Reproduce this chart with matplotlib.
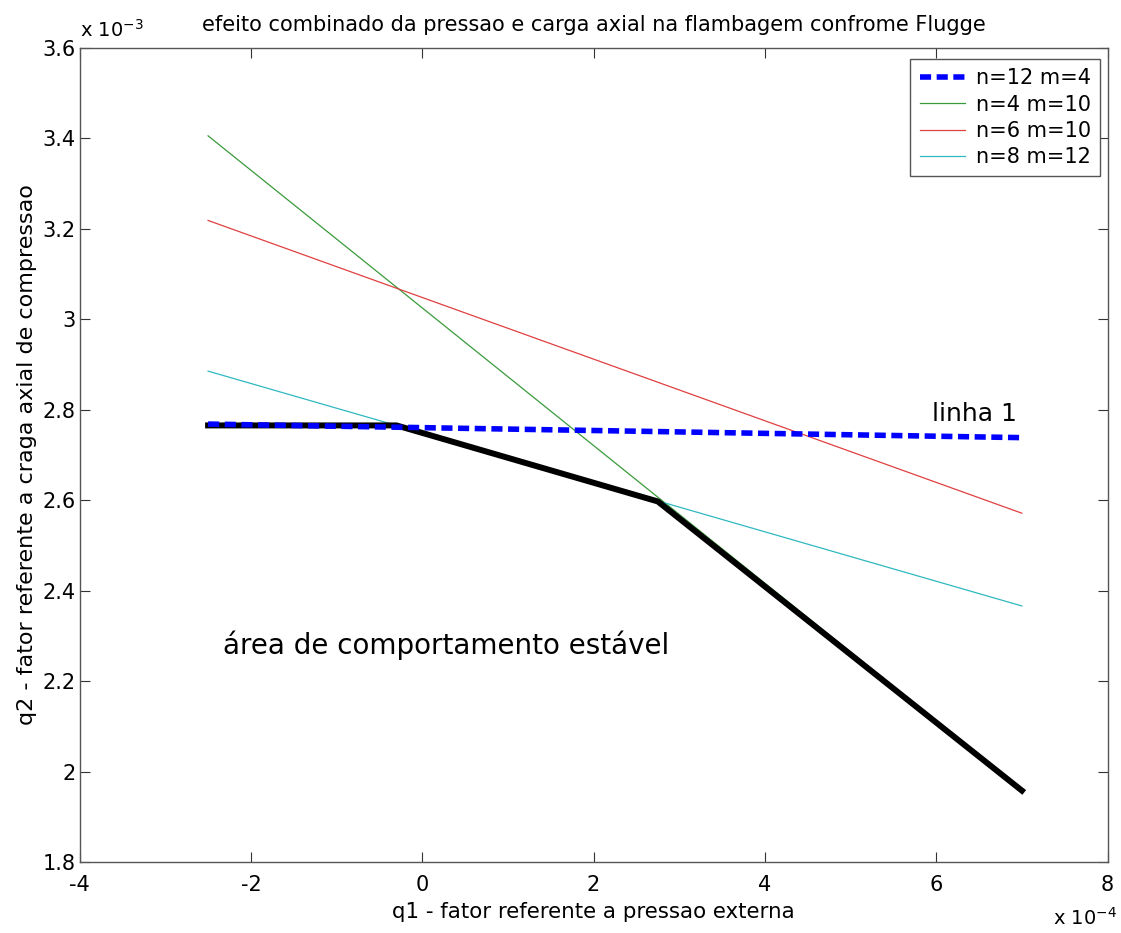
import matplotlib
matplotlib.use('Agg')
import matplotlib.pyplot as plt

plt.rcParams['font.family'] = ['DejaVu Sans']
plt.rcParams['axes.unicode_minus'] = False

# values (q1 in 1e-4, q2 in 1e-3)
q1_blue = [-2.5, 7.0]
q2_blue = [2.768, 2.738]

q1_green = [-2.5, 7.0]
q2_green = [3.405, 1.960]

q1_red = [-2.5, 7.0]
q2_red = [3.218, 2.571]

q1_cyan = [-2.5, 7.0]
q2_cyan = [2.885, 2.366]

q1_limit = [-2.5, -0.3, 2.75, 7.0]
q2_limit = [2.765, 2.765, 2.597, 1.958]

fig = plt.figure(figsize=(11.21, 9.33), dpi=100)
ax = fig.add_axes([0.071, 0.076, 0.917, 0.873])

ax.plot(q1_green, q2_green, color='#3a9a3a', lw=0.9, label='n=4 m=10', zorder=2)
ax.plot(q1_red, q2_red, color='#e04040', lw=0.9, label='n=6 m=10', zorder=2)
ax.plot(q1_cyan, q2_cyan, color='#30b8c0', lw=0.9, label='n=8 m=12', zorder=2)
ax.plot(q1_limit, q2_limit, color='black', lw=4.3, zorder=3)
ax.plot(q1_blue, q2_blue, color='#0000ff', lw=4, ls=(0, (2, 1)), label='n=12 m=4', zorder=4)

handles, labels = ax.get_legend_handles_labels()
order = [3, 0, 1, 2]
leg = ax.legend([handles[i] for i in order], [labels[i] for i in order],
                loc='upper right', bbox_to_anchor=(0.993, 0.986),
                fontsize=15, fancybox=False, framealpha=1,
                edgecolor='#555555', handlelength=2.2, handletextpad=0.5,
                borderaxespad=0.0, labelspacing=0.3, borderpad=0.45)
leg.get_frame().set_linewidth(1.0)

ax.text(6.45, 2.79, 'linha 1', fontsize=18, ha='center', va='center')
ax.text(-2.33, 2.28, 'área de comportamento estável', fontsize=20, ha='left', va='center')

ax.set_xlim(-4, 8)
ax.set_ylim(1.8, 3.6)
ax.set_xticks([-4, -2, 0, 2, 4, 6, 8])
ax.set_yticks([1.8, 2.0, 2.2, 2.4, 2.6, 2.8, 3.0, 3.2, 3.4, 3.6])
ax.set_yticklabels(['1.8', '2', '2.2', '2.4', '2.6', '2.8', '3', '3.2', '3.4', '3.6'])
ax.tick_params(direction='in', top=True, right=True, length=7, labelsize=15,
               color='#333333', pad=3)
ax.tick_params(axis='x', pad=9)
for s in ax.spines.values():
    s.set_color('#555555')
    s.set_linewidth(1.0)

ax.set_title('efeito combinado da pressao e carga axial na flambagem confrome Flugge',
             fontsize=15, pad=12)
ax.set_xlabel('q1 - fator referente a pressao externa', fontsize=15.4, labelpad=5)
ax.set_ylabel('q2 - fator referente a craga axial de compressao', fontsize=16, labelpad=4)

ax.text(0.0, 1.008, r'x 10$^{-3}$', transform=ax.transAxes, fontsize=14, ha='left', va='bottom')
fig.text(0.996, 0.004, r'x 10$^{-4}$', fontsize=14, ha='right', va='bottom')

fig.savefig('out.png', dpi=100)
